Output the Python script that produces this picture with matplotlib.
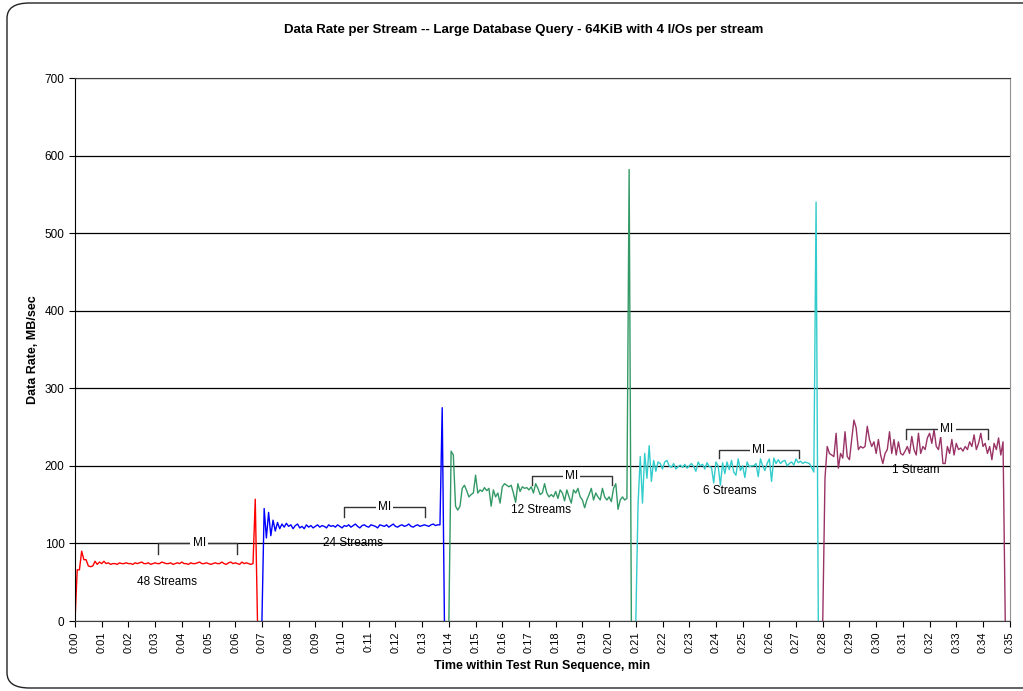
import numpy as np
import matplotlib.pyplot as plt
from matplotlib.patches import FancyBboxPatch

plt.rcParams['font.family'] = ['Liberation Sans', 'DejaVu Sans']

# per-stream data rate, MB/sec, sampled every 5 s; one list per test step
rate_48 = [0, 66, 66, 90, 79, 79, 71, 70, 71, 77, 73, 76, 74, 77, 74, 75, 73, 74, 74, 73,
           75, 74, 74, 75, 74, 74, 73, 75, 74, 75, 76, 74, 74, 75, 73, 74, 75, 74, 74, 76,
           75, 74, 74, 75, 73, 74, 75, 74, 76, 74, 74, 73, 75, 74, 74, 75, 76, 74, 74, 75,
           74, 73, 74, 75, 74, 74, 76, 74, 73, 75, 76, 74, 75, 74, 73, 76, 74, 75, 74, 73,
           74, 157, 0]
rate_24 = [0, 145, 107, 140, 110, 130, 116, 127, 119, 125, 121, 126, 122, 124, 119, 123,
           125, 120, 122, 119, 124, 121, 123, 120, 122, 124, 121, 123, 122, 120, 124, 122,
           123, 121, 124, 122, 120, 123, 122, 124, 121, 123, 125, 122, 120, 123, 124, 122,
           121, 124, 123, 122, 120, 124, 123, 122, 124, 121, 123, 125, 122, 121, 123, 124,
           122, 123, 125, 122, 121, 123, 124, 122, 123, 124, 123, 122, 124, 125, 123, 124,
           124, 275, 0]
rate_12 = [0, 219, 214, 148, 143, 148, 171, 175, 168, 160, 163, 165, 188, 165, 169, 167,
           172, 168, 171, 148, 169, 160, 165, 152, 173, 177, 175, 173, 175, 165, 153, 177,
           167, 173, 171, 172, 169, 173, 165, 177, 171, 163, 165, 177, 165, 160, 163, 160,
           167, 158, 169, 165, 155, 169, 160, 152, 169, 165, 171, 160, 156, 146, 156, 163,
           171, 156, 165, 160, 156, 171, 160, 156, 160, 154, 171, 177, 144, 156, 160, 156,
           158, 582, 0]
rate_6 = [0, 150, 212, 152, 216, 184, 226, 180, 207, 193, 205, 203, 196, 205, 207, 200,
          198, 203, 196, 199, 201, 198, 202, 197, 200, 203, 199, 193, 205, 200, 202, 196,
          204, 199, 198, 178, 205, 200, 175, 204, 190, 205, 195, 207, 192, 188, 209, 194,
          200, 185, 205, 199, 200, 200, 203, 186, 209, 200, 194, 203, 209, 180, 210, 203,
          208, 203, 206, 207, 200, 203, 205, 201, 209, 204, 206, 203, 205, 204, 203, 198,
          192, 540, 0]
rate_1 = [0, 184, 225, 216, 214, 212, 242, 197, 216, 210, 244, 212, 208, 234, 259, 249,
          221, 225, 223, 225, 251, 234, 225, 231, 216, 234, 214, 203, 216, 221, 244, 216,
          234, 214, 231, 216, 214, 219, 225, 216, 238, 221, 214, 242, 216, 225, 221, 236,
          242, 229, 247, 225, 221, 238, 203, 203, 225, 216, 234, 214, 229, 221, 223, 219,
          225, 221, 231, 225, 240, 221, 229, 242, 225, 229, 216, 225, 208, 229, 221, 236,
          214, 231, 0]

series = [rate_48, rate_24, rate_12, rate_6, rate_1]
labels = ['48 Streams', '24 Streams', '12 Streams', '6 Streams', '1 Stream']
colors = ['#FF0000', '#0000FF', '#339966', '#33CCCC', '#993366']
starts = [0, 7, 14, 21, 28]  # minutes

tick_labels = ['0:%02d' % m for m in range(36)]

fig = plt.figure(figsize=(10.23, 6.91), dpi=100)
ax = fig.add_axes([0.0733, 0.1013, 0.9137, 0.7858])

for vals, t0, c in zip(series, starts, colors):
    t = t0 + np.arange(len(vals)) / 12.0
    ax.plot(t, vals, color=c, lw=1.0)

# measurement-interval brackets and stream-count labels
mi = [(3.1, 6.07, 100, 87, 4.65), (10.07, 13.1, 147, 134, 11.6),
      (17.1, 20.1, 187, 175, 18.6), (24.1, 27.1, 221, 210, 25.6),
      (31.1, 34.2, 248, 235, 32.65)]
for x0, x1, top, bot, xm in mi:
    ax.plot([x0, x0, x1, x1], [bot, top, top, bot], color='#333333', lw=1.0)
    ax.text(xm, top, 'MI', ha='center', va='center', fontsize=8.5,
            bbox=dict(facecolor='white', edgecolor='none', pad=1.5))
label_pos = [(3.45, 50), (10.4, 100), (17.45, 143), (24.5, 168), (31.5, 195)]
for (x, y), s in zip(label_pos, labels):
    ax.text(x, y, s, ha='center', va='center', fontsize=8.5)

ax.set_xlim(0, 35)
ax.set_ylim(0, 700)
ax.set_xticks(range(36))
ax.set_xticklabels(tick_labels, rotation=90, fontsize=8)
ax.set_yticks(range(0, 701, 100))
ax.tick_params(axis='y', labelsize=8.5, length=4, direction='out')
ax.tick_params(axis='x', length=4, direction='out')
ax.yaxis.grid(True, color='black', lw=0.9)
ax.set_axisbelow(True)
ax.spines['top'].set_color('#404040')
ax.spines['right'].set_color('#909090')
ax.spines['left'].set_color('black')
ax.spines['bottom'].set_color('#404040')

ax.set_xlabel('Time within Test Run Sequence, min', fontsize=9, fontweight='bold', labelpad=5)
ax.set_ylabel('Data Rate, MB/sec', fontsize=9, fontweight='bold', labelpad=4)
fig.text(0.512, 0.957, 'Data Rate per Stream -- Large Database Query - 64KiB with 4 I/Os per stream',
         ha='center', va='center', fontsize=9.5, fontweight='bold')

# chart border, right edge runs off the image
frame = FancyBboxPatch((7 / 1023, 3 / 691), 1060 / 1023, 685 / 691,
                       boxstyle='round,pad=0,rounding_size=0.022',
                       transform=fig.transFigure, facecolor='none',
                       edgecolor='#222222', lw=1.0, clip_on=False)
fig.patches.append(frame)

fig.savefig('out.png', dpi=100)
